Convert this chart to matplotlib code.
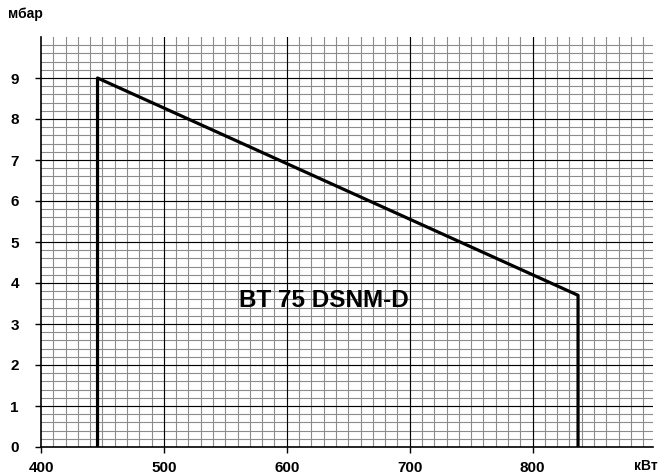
import numpy as np
import matplotlib.pyplot as plt

plt.rcParams["font.family"] = ["Liberation Sans", "DejaVu Sans"]

# working field of the burner
power_kw = [446, 446, 837, 837]
pressure_mbar = [0, 9, 3.7, 0]
model = "BT 75 DSNM-D"

x_ticks = [400, 500, 600, 700, 800]
y_ticks = [0, 1, 2, 3, 4, 5, 6, 7, 8, 9]

fig = plt.figure(figsize=(6.65, 4.76), dpi=100)
ax = fig.add_axes([41 / 665, 29 / 476, 612 / 665, 410 / 476])
ax.set_xlim(400, 898)
ax.set_ylim(0, 10)

# grid paper
for x in np.arange(410, 891, 10):
    ax.plot([x, x], [0, 10], color="#8c8c8c", lw=0.8, zorder=1)
for y in np.arange(0.2, 9.81, 0.2):
    ax.plot([400, 898], [y, y], color="#8c8c8c", lw=0.8, zorder=1)
for x in x_ticks[1:]:
    ax.plot([x, x], [0, 10], color="black", lw=0.8, zorder=2)
for y in y_ticks[1:]:
    ax.plot([400, 898], [y, y], color="black", lw=0.8, zorder=2)

ax.plot(power_kw, pressure_mbar, color="black", lw=2.3, zorder=3)
ax.text(630, 3.57, model, fontsize=17.5, fontweight="bold",
        ha="center", va="center", zorder=4)

for s in ["top", "right"]:
    ax.spines[s].set_visible(False)
ax.spines["left"].set_linewidth(1.2)
ax.spines["bottom"].set_linewidth(1.2)

ax.set_xticks(x_ticks)
ax.set_yticks(y_ticks)
ax.tick_params(axis="x", length=4, width=1, labelsize=11, pad=6)
ax.tick_params(axis="y", length=4, width=1, labelsize=11, pad=12)
for lbl in ax.get_xticklabels() + ax.get_yticklabels():
    lbl.set_fontweight("bold")

fig.text(8 / 665, 1 - 14 / 476, "мбар", fontsize=10, fontweight="bold", va="center")
fig.text(646 / 665, 1 - 466 / 476, "кВт", fontsize=10, fontweight="bold", ha="center", va="center")

plt.savefig("out.png", dpi=100)
